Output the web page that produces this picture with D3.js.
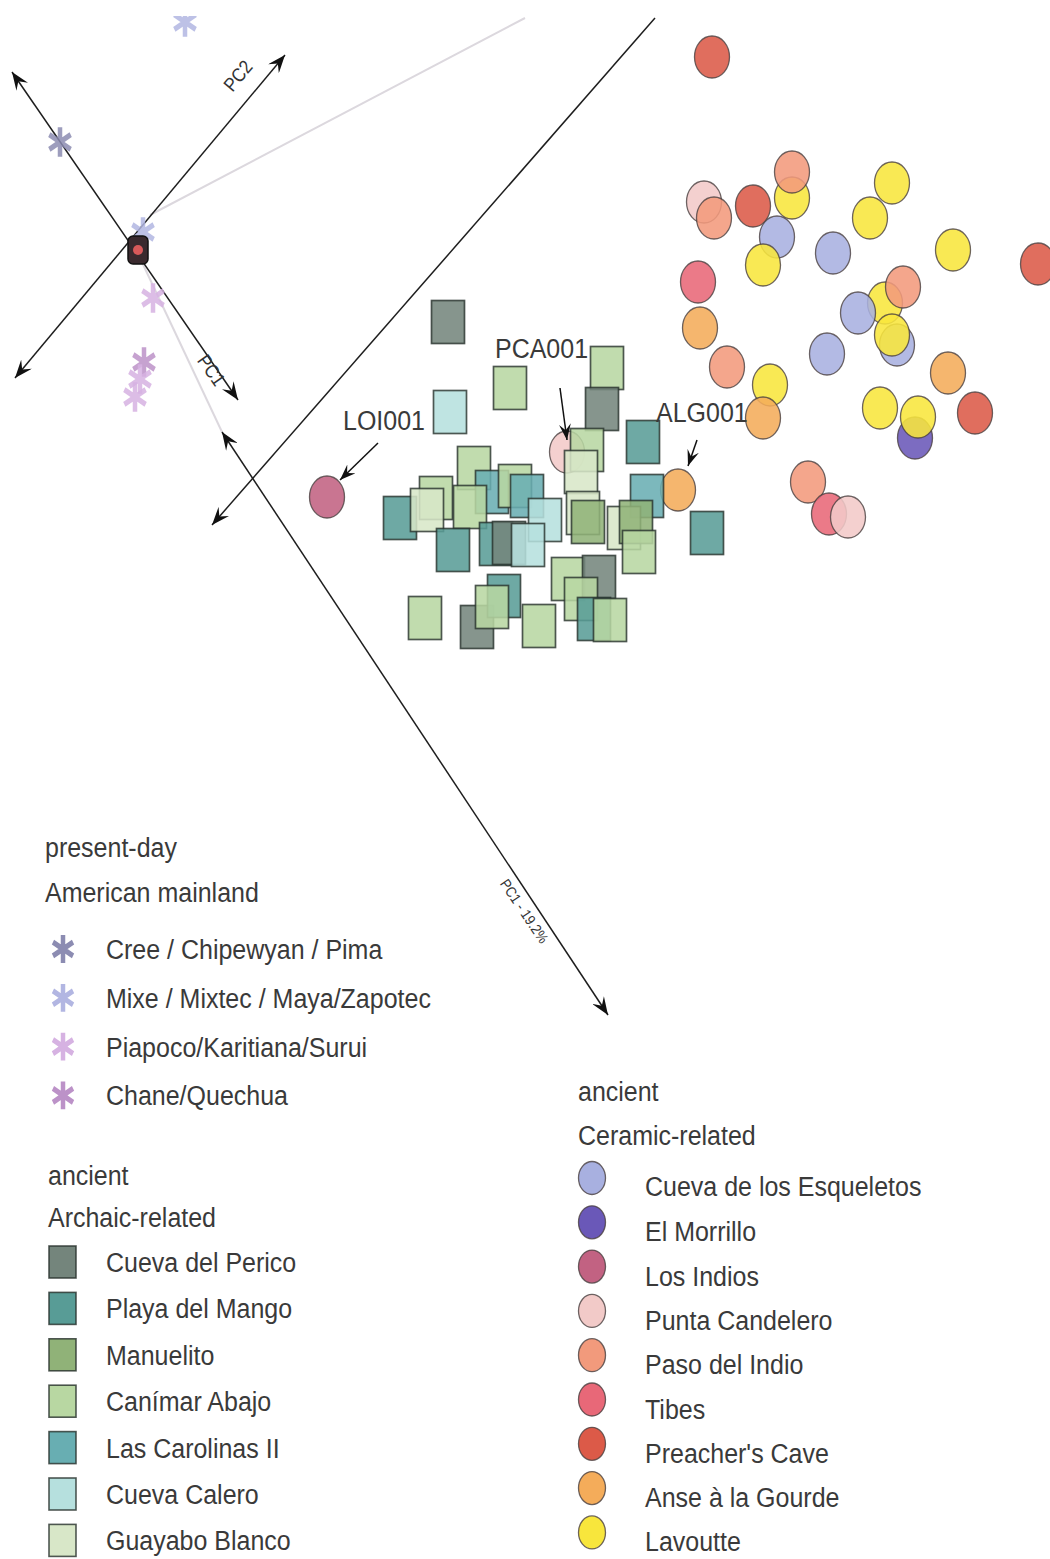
<!DOCTYPE html>
<html>
<head>
<meta charset="utf-8">
<script src="https://cdn.jsdelivr.net/npm/d3@7"></script>
<style>
body { margin: 0; background: #fff; }
svg text { font-family: "Liberation Sans", Arial, sans-serif; fill: #3a3a3a; }
</style>
</head>
<body>
<div id="chart"></div>
<script>
// groups and colours
const presentGroups = ["Cree / Chipewyan / Pima", "Mixe / Mixtec / Maya/Zapotec", "Piapoco/Karitiana/Surui", "Chane/Quechua"];
const presentColors = ["#8c8cb2", "#b2b6e2", "#d6b2e2", "#bc92c8"];

const archaicGroups = ["Cueva del Perico", "Playa del Mango", "Manuelito", "Canímar Abajo", "Las Carolinas II", "Cueva Calero", "Guayabo Blanco"];
const archaicColors = ["#74857c", "#589c96", "#90b278", "#b8d7a2", "#68aeb2", "#b6e0de", "#d8e7c8"];

const ceramicGroups = ["Cueva de los Esqueletos", "El Morrillo", "Los Indios", "Punta Candelero", "Paso del Indio", "Tibes", "Preacher's Cave", "Anse à la Gourde", "Lavoutte"];
const ceramicColors = ["#a8b0e0", "#6a58b8", "#c26282", "#f2cac8", "#f29a7c", "#e86878", "#dc5a48", "#f4ac5a", "#f8e63c"];

// samples: [group, x, y] in plot units
const presentSamples = [
    [1, 18.5, 2.2], [0, 6.0, 14.2], [1, 14.3, 23.2], [2, 15.3, 29.8],
    [3, 14.4, 36.2], [2, 14.0, 37.9], [2, 13.5, 39.7]
];

const ceramicSamples = [
    [6, 71.2, 5.7], [3, 70.4, 20.2], [4, 71.4, 21.8], [8, 79.2, 19.8], [4, 79.2, 17.2],
    [6, 75.3, 20.6], [0, 77.7, 23.7], [8, 76.3, 26.5], [0, 83.3, 25.3], [8, 89.2, 18.3],
    [8, 87.0, 21.8], [8, 95.3, 25.0], [6, 103.8, 26.4], [5, 69.8, 28.2], [8, 88.5, 30.3],
    [4, 90.3, 28.7], [0, 85.8, 31.3], [0, 89.7, 34.5], [8, 89.2, 33.5], [0, 82.7, 35.4],
    [7, 70.0, 32.8], [4, 72.7, 36.7], [7, 94.8, 37.3], [8, 77.0, 38.5], [7, 76.3, 41.8],
    [8, 88.0, 40.8], [1, 91.5, 43.8], [8, 91.8, 41.7], [6, 97.5, 41.3], [4, 80.8, 48.2],
    [5, 82.9, 51.4], [3, 84.8, 51.7], [3, 56.7, 45.2], [7, 67.8, 49.0], [2, 32.7, 49.7]
];

const archaicSamples = [
    [0, 44.8, 32.2], [5, 45.0, 41.2], [3, 51.0, 38.8], [3, 60.7, 36.8], [0, 60.2, 40.9],
    [1, 64.3, 44.2], [1, 70.7, 53.3], [1, 40.0, 51.8], [3, 43.6, 49.8], [6, 42.7, 51.0],
    [3, 47.4, 46.8], [4, 49.2, 49.2], [3, 47.0, 50.7], [3, 51.5, 48.6], [4, 52.7, 49.6],
    [5, 54.5, 52.0], [1, 45.3, 55.0], [1, 49.6, 54.4], [0, 50.9, 54.3], [5, 52.8, 54.5],
    [3, 58.7, 45.0], [6, 58.1, 47.2], [6, 58.3, 51.3], [2, 58.8, 52.2], [4, 64.7, 49.6],
    [6, 62.4, 52.8], [2, 63.6, 52.2], [3, 63.9, 55.2], [3, 56.8, 57.9], [0, 59.9, 57.7],
    [3, 58.1, 59.9], [1, 59.4, 61.9], [3, 61.0, 62.0], [3, 42.5, 61.8], [0, 47.7, 62.7],
    [1, 50.4, 59.6], [3, 49.2, 60.7], [3, 53.9, 62.6]
];

// axis arrows and guides: [x1, y1, x2, y2, heads]
const arrows = [
    [15.0, 21.5, 52.5, 1.8, "none"],
    [14.0, 25.8, 22.2, 43.2, "none"],
    [1.2, 7.2, 23.8, 40.0, "both"],
    [1.5, 37.8, 28.5, 5.5, "both"],
    [65.5, 1.8, 21.2, 52.5, "end"],
    [22.2, 43.2, 60.8, 101.5, "both"]
];
const axisLabels = [
    ["PC2", 24.3, 8.0, -50],
    ["PC1", 20.6, 37.4, 55],
    ["PC1 - 19.2%", 52.0, 91.4, 56]
];
// sample call-outs: [label, labelX, labelY, arrow x1, y1, x2, y2]
const callouts = [
    ["LOI001", 34.3, 43.0, 37.8, 44.3, 34.0, 48.0],
    ["PCA001", 49.5, 35.8, 56.0, 38.8, 56.7, 44.0],
    ["ALG001", 65.6, 42.2, 69.7, 44.0, 68.8, 46.6]
];
const origin = [13.8, 25.0];

//set dimensions
const width = 1050,
    height = 1559;

const x = d3.scaleLinear().domain([0, 105]).range([0, width]);
const y = d3.scaleLinear().domain([0, 155.9]).range([0, height]);

const svg = d3.select("#chart")
    .append("svg")
    .attr("width", width)
    .attr("height", height);

const defs = svg.append("defs");
defs.append("clipPath").attr("id", "plot-clip")
    .append("rect")
    .attr("x", 0).attr("y", 16)
    .attr("width", width).attr("height", height - 16);

// arrow heads
function addMarker(id, len, half) {
    defs.append("marker")
        .attr("id", id)
        .attr("markerUnits", "userSpaceOnUse")
        .attr("viewBox", `${-len} ${-half} ${len} ${half * 2}`)
        .attr("refX", 0).attr("refY", 0)
        .attr("markerWidth", len).attr("markerHeight", half * 2)
        .attr("orient", "auto-start-reverse")
        .append("path")
        .attr("d", `M0,0 L${-len},${-half} L${-len * 0.62},0 L${-len},${half} Z`)
        .attr("fill", "#111");
}
addMarker("head", 18, 7);
addMarker("head-small", 16, 6);

const stretch = 1.13;
function label(g, str, px, py, size, rot) {
    return g.append("text")
        .attr("transform", `translate(${px},${py}) rotate(${rot || 0}) scale(1,${stretch})`)
        .style("font-size", size + "px")
        .text(str);
}

const plot = svg.append("g").attr("clip-path", "url(#plot-clip)");

// guide lines and axes
plot.selectAll(".axis-line")
    .data(arrows)
    .enter()
    .append("line")
    .attr("class", "axis-line")
    .attr("x1", d => x(d[0])).attr("y1", d => y(d[1]))
    .attr("x2", d => x(d[2])).attr("y2", d => y(d[3]))
    .attr("stroke", d => d[4] === "none" ? "#dcd8de" : "#1e1e1e")
    .attr("stroke-width", d => d[4] === "none" ? 2 : 1.5)
    .attr("marker-start", d => d[4] === "both" ? "url(#head)" : null)
    .attr("marker-end", d => d[4] !== "none" ? "url(#head)" : null);

axisLabels.forEach(d => {
    label(plot, d[0], x(d[1]), y(d[2]), d[0].length > 3 ? 13 : 17, d[3])
        .attr("text-anchor", "middle")
        .style("fill", "#333");
});

// present-day asterisks
const asterisk = d3.symbol(d3.symbolAsterisk, 430);
plot.selectAll(".present")
    .data(presentSamples)
    .enter()
    .append("path")
    .attr("class", "present")
    .attr("d", asterisk)
    .attr("transform", d => `translate(${x(d[1])},${y(d[2])}) scale(1,1.2)`)
    .attr("fill", "none")
    .attr("stroke", d => presentColors[d[0]])
    .attr("stroke-width", 4.5)
    .attr("opacity", 0.85);

// zoomed out cluster at origin
plot.append("rect")
    .attr("x", x(origin[0]) - 10).attr("y", y(origin[1]) - 14)
    .attr("width", 20).attr("height", 28).attr("rx", 5)
    .attr("fill", "#3a2a2e").attr("stroke", "#111").attr("stroke-width", 1.5);
plot.append("circle")
    .attr("cx", x(origin[0])).attr("cy", y(origin[1]))
    .attr("r", 5).attr("fill", "#d85a5a");

// ceramic circles
const rx = 17.5, ry = 21;
plot.selectAll(".ceramic")
    .data(ceramicSamples)
    .enter()
    .append("ellipse")
    .attr("class", "ceramic")
    .attr("cx", d => x(d[1])).attr("cy", d => y(d[2]))
    .attr("rx", rx).attr("ry", ry)
    .attr("fill", d => ceramicColors[d[0]])
    .attr("fill-opacity", 0.88)
    .attr("stroke", "#4a4040")
    .attr("stroke-width", 1.3)
    .attr("stroke-opacity", 0.8);

// archaic squares
const sw = 33, sh = 43;
plot.selectAll(".archaic")
    .data(archaicSamples)
    .enter()
    .append("rect")
    .attr("class", "archaic")
    .attr("x", d => x(d[1]) - sw / 2).attr("y", d => y(d[2]) - sh / 2)
    .attr("width", sw).attr("height", sh)
    .attr("fill", d => archaicColors[d[0]])
    .attr("fill-opacity", 0.87)
    .attr("stroke", "#26302a")
    .attr("stroke-width", 1.7)
    .attr("stroke-opacity", 0.8);

// call-outs
callouts.forEach(d => {
    label(plot, d[0], x(d[1]), y(d[2]), 25);
    plot.append("line")
        .attr("x1", x(d[3])).attr("y1", y(d[4]))
        .attr("x2", x(d[5])).attr("y2", y(d[6]))
        .attr("stroke", "#111").attr("stroke-width", 1.5)
        .attr("marker-end", "url(#head-small)");
});

// legends
const legend = svg.append("g").attr("class", "legend");

// present-day
label(legend, "present-day", 45, 857, 25);
label(legend, "American mainland", 45, 902, 25);
presentGroups.forEach((name, i) => {
    const cy = 949 + i * 48.8;
    legend.append("path")
        .attr("d", d3.symbol(d3.symbolAsterisk, 380)())
        .attr("transform", `translate(63,${cy}) scale(1,1.2)`)
        .attr("fill", "none")
        .attr("stroke", presentColors[i])
        .attr("stroke-width", 4.5);
    label(legend, name, 106, cy + 10, 25);
});

// ancient archaic
label(legend, "ancient", 48, 1185, 25);
label(legend, "Archaic-related", 48, 1227, 25);
archaicGroups.forEach((name, i) => {
    const cy = 1262 + i * 46.4;
    legend.append("rect")
        .attr("x", 49).attr("y", cy - 16)
        .attr("width", 27).attr("height", 32)
        .attr("fill", archaicColors[i])
        .attr("stroke", "#26302a").attr("stroke-width", 1.6).attr("stroke-opacity", 0.8);
    label(legend, name, 106, cy + 10, 25);
});

// ancient ceramic
label(legend, "ancient", 578, 1101, 25);
label(legend, "Ceramic-related", 578, 1145, 25);
ceramicGroups.forEach((name, i) => {
    const cy = 1178 + i * 44.3;
    legend.append("ellipse")
        .attr("cx", 592).attr("cy", cy)
        .attr("rx", 13.5).attr("ry", 16.5)
        .attr("fill", ceramicColors[i])
        .attr("stroke", "#4a4040").attr("stroke-width", 1.3).attr("stroke-opacity", 0.8);
    label(legend, name, 645, cy + (i === 0 ? 18 : 19), 25);
});
</script>
</body>
</html>
